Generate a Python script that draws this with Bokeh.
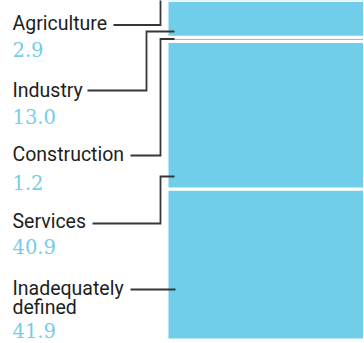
import numpy as np
from bokeh.plotting import figure
from bokeh.models import Range1d, ColumnDataSource
from bokeh.core.properties import value
from bokeh.embed import file_html
from bokeh.resources import INLINE

# ---- data (top of the column to bottom) ----
categories = ["Agriculture", "Industry", "Construction", "Services", "Inadequately\ndefined"]
shares = [2.9, 13.0, 1.2, 40.9, 41.9]
share_labels = ["2.9", "13.0", "1.2", "40.9", "41.9"]

# ---- layout / style ----
W, H = 364, 343
BAR_COLOR = "#71CEEA"
NUM_COLOR = "#74CDEA"
TEXT_COLOR = "#1E1E1E"
LINE_COLOR = "#363636"
PCT_START, PCT_END = -0.97, 94.18   # visible span of the stacked column (in %)
BAR_X, BAR_W = 266.5, 200            # column position in layout px
TEXT_X = 12
TEXT_SHIFT = -7                      # compensates baseline placement of the renderer
label_y = [30, 96.5, 161, 228, 295]
num_y = [56, 123, 189, 253, 337]
LINE_H = 19
conn_xs = [[113, 160, 160], [87, 146, 146, 174], [130, 160, 160, 174], [92, 160, 160, 174], [130, 175]]
conn_ys = [[24.5, 24.5, -5], [90, 90, 31, 31], [155, 155, 38.5, 38.5], [223, 223, 176, 176], [289, 289]]

p = figure(width=W, height=H, output_backend="svg", toolbar_location=None,
           x_range=Range1d(0, W), y_range=Range1d(H, 0),
           x_axis_location=None, y_axis_location=None, min_border=0)
p.grid.visible = False
p.outline_line_color = None
p.extra_y_ranges = {"pct": Range1d(PCT_START, PCT_END)}

# stacked column, bottom-up
vals_bu = np.array(shares[::-1])
tops = np.cumsum(vals_bu)
bottoms = tops - vals_bu
bar_src = ColumnDataSource(dict(bottom=bottoms, top=tops))
p.vbar(x=BAR_X, width=BAR_W, bottom="bottom", top="top", source=bar_src,
       y_range_name="pct", fill_color=BAR_COLOR, line_color="white", line_width=3)

# connectors
p.multi_line(xs=conn_xs, ys=conn_ys, line_color=LINE_COLOR, line_width=1.8, line_join="miter")

# category labels
lx, ly, lt = [], [], []
for cat, y in zip(categories, label_y):
    for k, part in enumerate(cat.split("\n")):
        lx.append(TEXT_X)
        ly.append(y + k * LINE_H + TEXT_SHIFT)
        lt.append(part)
p.text(x=lx, y=ly, text=lt, text_font=value("Roboto"), text_font_size="19.5px",
       text_color=TEXT_COLOR, text_baseline="alphabetic", text_align="left")

# values
p.text(x=[TEXT_X] * len(share_labels), y=[v + TEXT_SHIFT for v in num_y], text=share_labels,
       text_font=value("DejaVu Serif"), text_font_size="19.5px",
       text_color=NUM_COLOR, text_baseline="alphabetic", text_align="left")

open("out.html", "w").write(file_html(p, INLINE))
